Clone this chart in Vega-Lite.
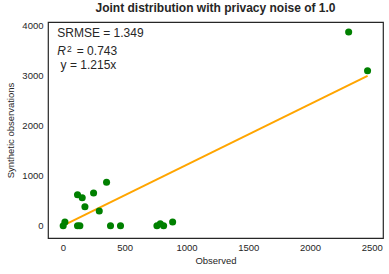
{
  "$schema": "https://vega.github.io/schema/vega-lite/v6.json",
  "autosize": {"type": "none"},
  "width": 335,
  "height": 216,
  "padding": {"left": 48, "top": 22, "right": 6, "bottom": 36},
  "background": "white",
  "title": {"text": "Joint distribution with privacy noise of 1.0", "fontSize": 12, "fontWeight": "bold", "font": "Liberation Sans", "color": "#262626", "offset": 6},
  "config": {
    "view": {"stroke": "#262626", "strokeWidth": 1.2},
    "axis": {"grid": false, "domain": false, "ticks": false, "format": "d", "labelFont": "Liberation Sans", "titleFont": "Liberation Sans", "labelFontSize": 9.5, "titleFontSize": 9.5, "titleFontWeight": "normal", "labelColor": "#262626", "titleColor": "#262626"}
  },
  "datasets": {
    "points": [
      {"observed": 2313, "synthetic": 3873},
      {"observed": 2466, "synthetic": 3100},
      {"observed": 353, "synthetic": 870},
      {"observed": 118, "synthetic": 620},
      {"observed": 156, "synthetic": 560},
      {"observed": 248, "synthetic": 654},
      {"observed": 178, "synthetic": 380},
      {"observed": 294, "synthetic": 294},
      {"observed": 16, "synthetic": 74},
      {"observed": 2, "synthetic": 0},
      {"observed": 118, "synthetic": 0},
      {"observed": 137, "synthetic": 0},
      {"observed": 385, "synthetic": 0},
      {"observed": 466, "synthetic": 0},
      {"observed": 788, "synthetic": 40},
      {"observed": 761, "synthetic": 0},
      {"observed": 815, "synthetic": 0},
      {"observed": 888, "synthetic": 74}
    ],
    "fit": [
      {"observed": 0, "synthetic": 0},
      {"observed": 2466, "synthetic": 2996}
    ],
    "notes": [
      {"observed": -46, "synthetic": 3770, "label": "SRMSE = 1.349", "kind": "normal"},
      {"observed": -46, "synthetic": 3410, "label": "R", "kind": "italic"},
      {"observed": 33, "synthetic": 3475, "label": "2", "kind": "sup"},
      {"observed": 112, "synthetic": 3410, "label": "= 0.743", "kind": "normal"},
      {"observed": -19, "synthetic": 3130, "label": "y = 1.215x", "kind": "normal"}
    ]
  },
  "layer": [
    {
      "data": {"name": "fit"},
      "mark": {"type": "line", "color": "#FFA500", "strokeWidth": 2},
      "encoding": {
        "x": {"field": "observed", "type": "quantitative", "scale": {"domain": [-121, 2591], "nice": false, "zero": false}, "axis": {"values": [0, 500, 1000, 1500, 2000, 2500], "title": "Observed", "labelPadding": 4, "titlePadding": 4}},
        "y": {"field": "synthetic", "type": "quantitative", "scale": {"domain": [-246, 4074], "nice": false, "zero": false}, "axis": {"values": [0, 500, 1000, 1500, 2000, 2500, 3000, 3500, 4000], "title": "Synthetic observations", "labelPadding": 5, "titlePadding": 6}}
      }
    },
    {
      "data": {"name": "points"},
      "mark": {"type": "circle", "color": "#008000", "opacity": 1, "size": 50},
      "encoding": {
        "x": {"field": "observed", "type": "quantitative"},
        "y": {"field": "synthetic", "type": "quantitative"}
      }
    },
    {
      "data": {"name": "notes"},
      "transform": [{"filter": "datum.kind === 'normal'"}],
      "mark": {"type": "text", "align": "left", "baseline": "alphabetic", "font": "Liberation Sans", "fontSize": 12, "color": "#262626"},
      "encoding": {
        "x": {"field": "observed", "type": "quantitative"},
        "y": {"field": "synthetic", "type": "quantitative"},
        "text": {"field": "label"}
      }
    },
    {
      "data": {"name": "notes"},
      "transform": [{"filter": "datum.kind === 'italic'"}],
      "mark": {"type": "text", "align": "left", "baseline": "alphabetic", "font": "Liberation Sans", "fontSize": 12, "fontStyle": "italic", "color": "#262626"},
      "encoding": {
        "x": {"field": "observed", "type": "quantitative"},
        "y": {"field": "synthetic", "type": "quantitative"},
        "text": {"field": "label"}
      }
    },
    {
      "data": {"name": "notes"},
      "transform": [{"filter": "datum.kind === 'sup'"}],
      "mark": {"type": "text", "align": "left", "baseline": "alphabetic", "font": "Liberation Sans", "fontSize": 8.5, "color": "#262626"},
      "encoding": {
        "x": {"field": "observed", "type": "quantitative"},
        "y": {"field": "synthetic", "type": "quantitative"},
        "text": {"field": "label"}
      }
    }
  ]
}
